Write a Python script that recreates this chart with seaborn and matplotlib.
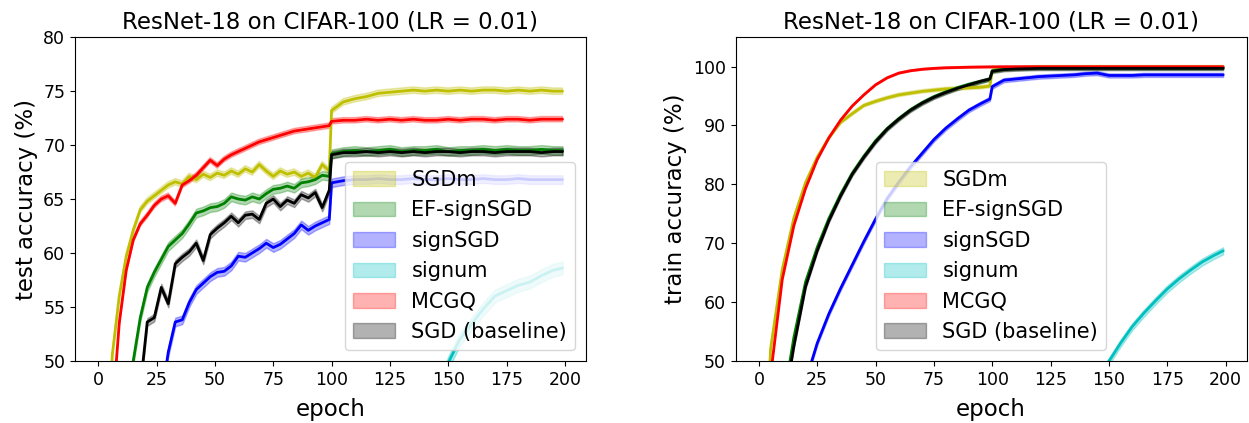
import numpy as np
import matplotlib
matplotlib.use("Agg")
import matplotlib.pyplot as plt
import seaborn as sns

nan = np.nan

test_epochs = list(range(0, 100, 3)) + list(range(100, 200, 5)) + [199]
train_epochs = list(range(0, 100, 5)) + [99] + list(range(100, 200, 5)) + [199]
signum_epochs = list(range(145, 200, 5)) + [199]

methods = ['SGDm', 'EF-signSGD', 'signSGD', 'signum', 'MCGQ', 'SGD (baseline)']
colors = ['y', 'g', 'b', 'c', 'r', 'k']

# test accuracy (%)
sgdm_test = [nan, 36.0, 50.5, 56.0, 59.7, 62.1, 64.0, 64.8, 65.3, 65.8, 66.3, 66.6, 66.4, 67.1, 66.8, 67.3, 67.0,
             67.4, 67.2, 67.6, 67.3, 67.8, 67.5, 68.2, 67.6, 67.1, 67.6, 67.3, 67.5, 67.1, 67.4, 67.0, 68.2, 67.6,
             73.2, 74.0, 74.3, 74.5, 74.8, 74.9, 75.0, 75.1, 75.0, 75.1, 75.0, 75.1, 75.0, 75.1, 75.1, 75.0, 75.1,
             75.0, 75.1, 75.0, 75.0]
ef_test = [nan, nan, nan, nan, 43.0, 50.0, 54.0, 56.8, 58.2, 59.4, 60.6, 61.2, 61.8, 62.7, 63.7, 63.9, 64.2,
           64.3, 64.6, 65.2, 65.0, 64.9, 65.2, 65.0, 65.5, 65.9, 66.0, 66.2, 66.0, 66.5, 66.6, 66.8, 67.2, 67.1,
           69.2, 69.4, 69.5, 69.4, 69.5, 69.6, 69.4, 69.5, 69.5, 69.6, 69.4, 69.5, 69.5, 69.6, 69.5, 69.6, 69.5,
           69.5, 69.6, 69.5, 69.5]
signsgd_test = [nan, nan, nan, nan, nan, nan, nan, nan, nan, 46.5, 50.8, 53.6, 53.8, 55.4, 56.6, 57.2, 57.8,
                58.2, 58.3, 58.8, 59.7, 59.6, 60.0, 60.4, 60.9, 60.5, 60.8, 61.3, 61.8, 62.6, 62.1, 62.5, 62.8, 63.1,
                66.5, 66.7, 66.8, 66.8, 66.9, 66.8, 66.8, 66.9, 66.8, 66.8, 66.9, 66.8, 66.8, 66.9, 66.8, 66.8, 66.9,
                66.8, 66.8, 66.8, 66.8]
signum_test = [47.0, 49.8, 52.0, 53.4, 54.8, 56.0, 56.5, 57.0, 57.3, 57.9, 58.4, 58.6]
mcgq_test = [nan, 30.0, 45.0, 53.5, 58.4, 61.2, 62.7, 63.5, 64.4, 65.0, 65.3, 64.6, 66.3, 66.7, 67.2, 67.9, 68.6,
             68.1, 68.7, 69.1, 69.4, 69.7, 70.0, 70.3, 70.5, 70.7, 70.9, 71.1, 71.3, 71.4, 71.5, 71.6, 71.7, 71.8,
             72.2, 72.3, 72.3, 72.4, 72.3, 72.4, 72.3, 72.4, 72.3, 72.3, 72.4, 72.3, 72.4, 72.4, 72.3, 72.4, 72.4,
             72.3, 72.4, 72.4, 72.4]
sgd_test = [nan, nan, nan, nan, nan, 41.0, 47.5, 53.6, 54.0, 56.8, 55.3, 59.0, 59.6, 60.1, 60.9, 59.3, 61.7,
            62.3, 62.8, 63.4, 62.8, 63.5, 63.6, 63.1, 64.6, 65.0, 64.3, 64.9, 64.6, 65.4, 65.1, 65.6, 64.2, 65.8,
            69.1, 69.3, 69.3, 69.4, 69.3, 69.4, 69.3, 69.4, 69.3, 69.4, 69.4, 69.3, 69.4, 69.4, 69.3, 69.4, 69.4,
            69.4, 69.3, 69.4, 69.4]

# train accuracy (%)
sgdm_train = [10.0, 52.0, 65.5, 74.3, 80.3, 84.6, 87.9, 90.5, 92.0, 93.4, 94.1, 94.7, 95.2, 95.5, 95.8, 96.0,
              96.2, 96.3, 96.4, 96.5, 96.7,
              99.3, 99.7, 99.8, 99.85, 99.9, 99.9, 99.9, 99.9, 99.9, 99.9, 99.9, 99.9, 99.9, 99.9, 99.9, 99.9,
              99.9, 99.9, 99.9, 99.9, 99.9]
ef_train = [nan, nan, 42.0, 54.0, 63.4, 69.3, 74.2, 78.3, 81.9, 84.8, 87.4, 89.5, 91.2, 92.7, 93.9, 94.9, 95.7,
            96.4, 97.0, 97.5, 97.9,
            99.3, 99.6, 99.7, 99.75, 99.8, 99.8, 99.8, 99.8, 99.8, 99.8, 99.8, 99.8, 99.8, 99.8, 99.8, 99.8, 99.8,
            99.8, 99.8, 99.8, 99.8]
signsgd_train = [nan, nan, nan, nan, 46.5, 53.0, 58.0, 62.3, 66.3, 70.3, 74.1, 77.6, 80.4, 83.0, 85.3, 87.6,
                 89.5, 91.1, 92.6, 93.7, 94.5,
                 96.6, 97.7, 97.9, 98.1, 98.3, 98.4, 98.5, 98.6, 98.8, 98.9, 98.5, 98.5, 98.5, 98.6, 98.6, 98.6,
                 98.6, 98.6, 98.6, 98.6, 98.6]
signum_train = [47.0, 49.9, 53.0, 55.8, 58.1, 60.2, 62.2, 63.9, 65.4, 66.8, 67.9, 68.7]
mcgq_train = [9.0, 47.5, 63.8, 73.0, 79.3, 84.2, 87.9, 90.9, 93.3, 95.2, 96.9, 98.1, 98.9, 99.3, 99.55, 99.7,
              99.8, 99.85, 99.9, 99.93, 99.95,
              99.96, 99.97, 99.97, 99.98, 99.98, 99.98, 99.98, 99.98, 99.98, 99.98, 99.98, 99.98, 99.98, 99.98,
              99.98, 99.98, 99.98, 99.98, 99.98, 99.98, 99.98]
sgd_train = [nan, nan, 40.5, 52.5, 62.6, 68.7, 73.8, 78.0, 81.7, 84.6, 87.2, 89.4, 91.1, 92.6, 93.8, 94.8, 95.6,
             96.3, 96.9, 97.5, 97.9,
             99.2, 99.5, 99.6, 99.65, 99.7, 99.7, 99.7, 99.7, 99.7, 99.7, 99.7, 99.7, 99.7, 99.7, 99.7, 99.7, 99.7,
             99.7, 99.7, 99.7, 99.7]

# half width of the shaded band (std over runs)
test_spread = [0.3, 0.4, 0.4, 0.6, 0.25, 0.35]
train_spread = [0.3, 0.3, 0.35, 0.6, 0.15, 0.3]

test_curves = [sgdm_test, ef_test, signsgd_test, signum_test, mcgq_test, sgd_test]
train_curves = [sgdm_train, ef_train, signsgd_train, signum_train, mcgq_train, sgd_train]

sns.set_style("ticks")
plt.rcParams['font.family'] = ['DejaVu Sans']
plt.rcParams['text.color'] = 'black'
plt.rcParams['axes.labelcolor'] = 'black'
plt.rcParams['xtick.color'] = 'black'
plt.rcParams['ytick.color'] = 'black'

fig, axes = plt.subplots(1, 2, figsize=(12.49, 4.23), dpi=100)
plt.subplots_adjust(left=0.060, right=0.998, bottom=0.147, top=0.912, wspace=0.293)


def draw(ax, curves, spread, epochs):
    for name, c, vals, s in zip(methods, colors, curves, spread):
        x = signum_epochs if name == 'signum' else epochs
        y = np.array(vals, dtype=float)
        sns.lineplot(x=x, y=y, color=c, linewidth=2, errorbar=None, legend=False, ax=ax)
        ax.fill_between(x, y - s, y + s, color=c, alpha=0.3, label=name)


draw(axes[0], test_curves, test_spread, test_epochs)
draw(axes[1], train_curves, train_spread, train_epochs)

for ax in axes:
    ax.set_xlim(-10, 209)
    ax.set_xticks(range(0, 201, 25))
    ax.set_xlabel('epoch', fontsize=16.5, labelpad=7)
    ax.set_title('ResNet-18 on CIFAR-100 (LR = 0.01)', fontsize=16.5)
    ax.tick_params(labelsize=12.5)
    for sp in ax.spines.values():
        sp.set_color('black')

axes[0].set_ylim(50, 80)
axes[0].set_ylabel('test accuracy (%)', fontsize=16.5)
axes[0].legend(loc='lower right', fontsize=15)

axes[1].set_ylim(50, 105)
axes[1].set_yticks(range(50, 101, 10))
axes[1].set_ylabel('train accuracy (%)', fontsize=16.5)
axes[1].legend(loc='lower center', fontsize=15)

plt.savefig('out.png', dpi=100)
